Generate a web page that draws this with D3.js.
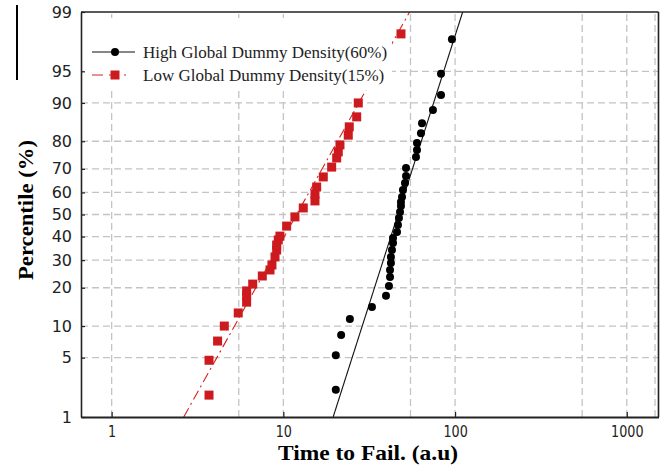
<!DOCTYPE html>
<html>
<head>
<meta charset="utf-8">
<script src="https://cdn.jsdelivr.net/npm/d3@7"></script>
<style>
  html, body { margin: 0; padding: 0; background: #ffffff; }
  svg { display: block; }
</style>
</head>
<body>
<svg id="chart" width="670" height="471"></svg>
<script>
// Percentile (probit) ticks and time (log) ticks
const pctTicks = [1, 5, 10, 20, 30, 40, 50, 60, 70, 80, 90, 95, 99];
const timeTicks = [1, 10, 100, 1000];
const timeGrid = [1, 5.5, 10, 55, 100, 550, 1000, 1460];

// High global dummy density (60%) — failure times and plotting percentiles
const highTime = [20.2, 20.2, 21.7, 24.4, 32.8, 39.6, 41.2, 41.8, 41.8, 42.3, 42.3, 42.9, 43.5, 43.5,
                  45.9, 46.5, 47.1, 47.8, 48.4, 48.4, 49.1, 49.7, 51.1, 51.8, 51.8, 59.2, 60.0, 60.0,
                  63.3, 64.2, 74.3, 82.8, 82.8, 95.9];
const highPct  = [2.2, 5.3, 8.3, 11.5, 14.4, 17.5, 20.6, 23.6, 26.2, 28.9, 31.3, 34.2, 37.2, 39.4,
                  42.0, 45.2, 48.4, 51.2, 53.9, 55.7, 58.0, 61.1, 64.1, 67.1, 70.3, 74.6, 77.1, 79.4,
                  82.5, 85.3, 88.5, 91.5, 94.7, 97.8];

// Low global dummy density (15%)
const lowTime = [3.69, 3.69, 4.14, 4.53, 5.46, 6.11, 6.11, 6.11, 6.63, 7.54, 8.36, 8.58, 8.94, 9.14,
                 9.14, 9.34, 9.55, 10.45, 11.68, 13.06, 15.28, 15.28, 15.63, 17.08, 19.11, 20.44,
                 20.88, 21.36, 23.88, 24.20, 26.73, 27.31, 48.41];
const lowPct  = [1.9, 4.7, 7.3, 10.0, 12.9, 15.7, 17.5, 19.0, 21.2, 24.0, 26.2, 28.1, 31.3, 34.2,
                 36.3, 38.5, 40.2, 44.7, 48.9, 53.0, 56.2, 59.3, 62.4, 66.7, 70.7, 74.2,
                 76.4, 78.8, 81.9, 84.3, 86.9, 90.0, 98.1];

// Lognormal fit lines, given by their 1% and 99% end points
const highFitTime = [19.5, 110.7];
const lowFitTime  = [2.63, 54.3];
const fitPct      = [1, 99];

const seriesNames = ["High Global Dummy Density(60%)", "Low Global Dummy Density(15%)"];

// Inverse standard normal CDF (Acklam's rational approximation)
function probit(p) {
  const a = [-3.969683028665376e+01, 2.209460984245205e+02, -2.759285104469687e+02,
             1.383577518672690e+02, -3.066479806614716e+01, 2.506628277459239e+00];
  const b = [-5.447609879822406e+01, 1.615858368580409e+02, -1.556989798598866e+02,
             6.680131188771972e+01, -1.328068155288572e+01];
  const c = [-7.784894002430293e-03, -3.223964580411365e-01, -2.400758277161838e+00,
             -2.549732539343734e+00, 4.374664141464968e+00, 2.938163982698783e+00];
  const d = [7.784695709041462e-03, 3.224671290700398e-01, 2.445134137142996e+00,
             3.754408661907416e+00];
  const pl = 0.02425, ph = 1 - pl;
  let q, r;
  if (p < pl) {
    q = Math.sqrt(-2 * Math.log(p));
    return (((((c[0]*q+c[1])*q+c[2])*q+c[3])*q+c[4])*q+c[5]) / ((((d[0]*q+d[1])*q+d[2])*q+d[3])*q+1);
  }
  if (p <= ph) {
    q = p - 0.5; r = q * q;
    return (((((a[0]*r+a[1])*r+a[2])*r+a[3])*r+a[4])*r+a[5])*q / (((((b[0]*r+b[1])*r+b[2])*r+b[3])*r+b[4])*r+1);
  }
  q = Math.sqrt(-2 * Math.log(1 - p));
  return -(((((c[0]*q+c[1])*q+c[2])*q+c[3])*q+c[4])*q+c[5]) / ((((d[0]*q+d[1])*q+d[2])*q+d[3])*q+1);
}
const z = pct => probit(pct / 100);

const margin = { left: 81, right: 658.5, top: 12, bottom: 417 };
const svg = d3.select("#chart");

const x = d3.scaleLog().domain([0.663, 1530]).range([margin.left, margin.right]);
const yz = d3.scaleLinear().domain([z(1), z(99)]).range([margin.bottom, margin.top]);
const y = pct => yz(z(pct));

const clipId = "plot-clip";
svg.append("defs").append("clipPath").attr("id", clipId)
  .append("rect")
  .attr("x", margin.left).attr("y", margin.top)
  .attr("width", margin.right - margin.left).attr("height", margin.bottom - margin.top);

// Grid
const grid = svg.append("g").attr("stroke", "#c4c4c4").attr("stroke-width", 1.3)
  .attr("stroke-dasharray", "7,4").attr("fill", "none");
grid.selectAll("line.v").data(timeGrid).join("line").attr("class", "v")
  .attr("x1", d => x(d)).attr("x2", d => x(d))
  .attr("y1", margin.bottom).attr("y2", margin.top);
grid.selectAll("line.h").data(pctTicks.filter(p => p > 1 && p < 99)).join("line").attr("class", "h")
  .attr("x1", margin.left).attr("x2", margin.right)
  .attr("y1", d => y(d)).attr("y2", d => y(d));

// Fit lines
const plot = svg.append("g").attr("clip-path", `url(#${clipId})`);
const fitLine = d3.line().x(d => x(d[0])).y(d => y(d[1]));
plot.append("path")
  .attr("d", fitLine(d3.zip(lowFitTime, fitPct)))
  .attr("fill", "none").attr("stroke", "#d42020").attr("stroke-width", 1.1)
  .attr("stroke-dasharray", "10,4,2,4");
plot.append("path")
  .attr("d", fitLine(d3.zip(highFitTime, fitPct)))
  .attr("fill", "none").attr("stroke", "#111").attr("stroke-width", 1.1);

// Legend panel (white, no border) sits over the grid and lines
const legend = svg.append("g");
legend.append("rect").attr("x", 84).attr("y", 18).attr("width", 308).attr("height", 72)
  .attr("fill", "#ffffff");

// Markers
plot.append("g").selectAll("rect").data(d3.zip(lowTime, lowPct)).join("rect")
  .attr("x", d => x(d[0]) - 4.5).attr("y", d => y(d[1]) - 4.5)
  .attr("width", 9).attr("height", 9).attr("fill", "#cc1a1f");
plot.append("g").selectAll("circle").data(d3.zip(highTime, highPct)).join("circle")
  .attr("cx", d => x(d[0])).attr("cy", d => y(d[1])).attr("r", 4).attr("fill", "#000");

// Legend entries
legend.append("line").attr("x1", 92).attr("x2", 135).attr("y1", 52).attr("y2", 52)
  .attr("stroke", "#111").attr("stroke-width", 1.2);
legend.append("circle").attr("cx", 115).attr("cy", 52).attr("r", 4).attr("fill", "#000");
legend.append("line").attr("x1", 92).attr("x2", 134).attr("y1", 75).attr("y2", 75)
  .attr("stroke", "#d42020").attr("stroke-width", 1.2).attr("stroke-dasharray", "11,6,6,9,2,20");
legend.append("rect").attr("x", 110.5).attr("y", 70.5).attr("width", 9).attr("height", 9).attr("fill", "#cc1a1f");
legend.selectAll("text").data(seriesNames).join("text")
  .attr("x", 143).attr("y", (d, i) => 57.5 + i * 23)
  .attr("font-family", "'Liberation Serif', 'Times New Roman', serif")
  .attr("font-size", 17).attr("fill", "#222")
  .text(d => d);

// Axes
const xAxis = d3.axisBottom(x).tickValues(timeTicks).tickFormat(d3.format("d"))
  .tickSizeInner(-5).tickSizeOuter(0).tickPadding(9);
const gx = svg.append("g").attr("transform", `translate(0,${margin.bottom})`).call(xAxis);
gx.select(".domain").attr("stroke", "#222").attr("stroke-width", 2);
gx.selectAll(".tick line").attr("stroke", "#222").attr("stroke-width", 1.2);
gx.selectAll(".tick text")
  .attr("font-family", "'DejaVu Sans', sans-serif").attr("font-size", 16).attr("fill", "#222")
  .attr("dy", "0.71em")
  .each(function(d) {
    const s = String(d);
    d3.select(this).attr("textLength", s.length * 8.1).attr("lengthAdjust", "spacingAndGlyphs");
  });

const yAxis = d3.axisLeft(yz).tickValues(pctTicks.map(z)).tickFormat((d, i) => pctTicks[i])
  .tickSizeInner(-4).tickSizeOuter(0).tickPadding(9);
const gy = svg.append("g").attr("transform", `translate(${margin.left},0)`).call(yAxis);
gy.select(".domain").attr("stroke", "#222").attr("stroke-width", 1.6);
gy.selectAll(".tick line").attr("stroke", "#222").attr("stroke-width", 1.2);
gy.selectAll(".tick text")
  .attr("font-family", "'DejaVu Sans', sans-serif").attr("font-size", 16).attr("fill", "#222");

// Top and right frame
svg.append("line").attr("x1", margin.left).attr("x2", margin.right)
  .attr("y1", margin.top).attr("y2", margin.top).attr("stroke", "#222").attr("stroke-width", 1.6);
svg.append("line").attr("x1", margin.right).attr("x2", margin.right)
  .attr("y1", margin.top).attr("y2", margin.bottom).attr("stroke", "#222").attr("stroke-width", 1.6);

// Axis titles
svg.append("text")
  .attr("x", 368).attr("y", 460).attr("text-anchor", "middle")
  .attr("font-family", "'Liberation Serif', 'Times New Roman', serif")
  .attr("font-weight", "bold").attr("font-size", 21).attr("fill", "#000")
  .attr("textLength", 180).attr("lengthAdjust", "spacingAndGlyphs")
  .text("Time to Fail. (a.u)");
svg.append("text")
  .attr("transform", "translate(33,210) rotate(-90)").attr("text-anchor", "middle")
  .attr("font-family", "'Liberation Serif', 'Times New Roman', serif")
  .attr("font-weight", "bold").attr("font-size", 22).attr("fill", "#000")
  .attr("textLength", 140).attr("lengthAdjust", "spacingAndGlyphs")
  .text("Percentile (%)");

// Left edge rule
svg.append("line").attr("x1", 17).attr("x2", 17).attr("y1", 5).attr("y2", 80)
  .attr("stroke", "#000").attr("stroke-width", 2);
</script>
</body>
</html>
